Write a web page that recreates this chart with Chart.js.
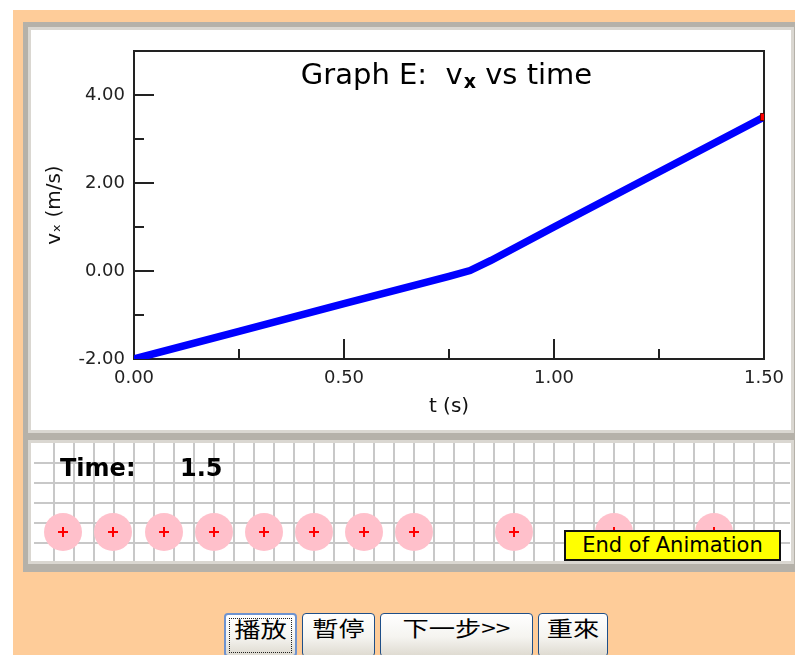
<!DOCTYPE html>
<html>
<head>
<meta charset="utf-8">
<script src="https://cdn.jsdelivr.net/npm/chart.js@4.4.1/dist/chart.umd.min.js"></script>
<style>
  html, body { margin: 0; padding: 0; }
  body { width: 795px; height: 655px; background: #fff; position: relative; overflow: hidden; font-family: "DejaVu Sans", sans-serif; }
  #bg { position: absolute; left: 13px; top: 10px; right: 0; bottom: 0; background: #fecc99; }
  #frame { position: absolute; left: 23px; top: 22px; width: 774px; height: 550px; background: #b5b1a9; }
  .inner { position: absolute; background: #fff; border: 3px solid #dad7d1; box-sizing: border-box; }
  #topBox { left: 28px; top: 27px; width: 766px; height: 406px; }
  #botBox { left: 28px; top: 440px; width: 766px; height: 124px; }
  #mainChart { position: absolute; left: 33px; top: 30px; }
  #motionChart { position: absolute; left: 34px; top: 443px; }
  .timeText { position: absolute; top: 455px; font: bold 24px "DejaVu Sans"; line-height: 26px; color: #000; }
  #endBox { position: absolute; left: 564px; top: 530px; width: 217px; height: 31px; box-sizing: border-box;
    background: #ffff00; border: 2px solid #111; font: 21px "DejaVu Sans"; line-height: 27px; text-align: center; color: #000; }
  .btn { position: absolute; top: 613px; height: 44px; box-sizing: border-box; border: 1px solid #1f4f88; border-radius: 4px;
    background: linear-gradient(#ffffff 0%, #f5f4f0 55%, #dedad0 100%); color: #000; }
  .btn span { position: absolute; left: 0; right: 0; top: 1px; text-align: center; font: 21px "Noto Sans CJK TC"; line-height: 24px; transform: scaleX(1.25); }
  #btnPlay { border: 2px solid #6f93cf; }
  #btnPlay i { position: absolute; left: 3px; top: 3px; right: 3px; bottom: 2px; border: 1px dotted #222; }
</style>
</head>
<body>
<div id="bg"></div>
<div id="frame"></div>
<div class="inner" id="topBox"></div>
<div class="inner" id="botBox"></div>
<canvas id="mainChart" width="752" height="400"></canvas>
<canvas id="motionChart" width="756" height="118"></canvas>
<div class="timeText" style="left:60px">Time:</div>
<div class="timeText" style="left:180px">1.5</div>
<div id="endBox">End of Animation</div>
<div class="btn" id="btnPlay" style="left:224px;width:73px"><i></i><span>播放</span></div>
<div class="btn" style="left:302px;width:73px"><span>暫停</span></div>
<div class="btn" style="left:380px;width:153px"><span>下一步&gt;&gt;</span></div>
<div class="btn" style="left:538px;width:70px"><span>重來</span></div>
<script>
// velocity graph data
const tValues = [0, 0.25, 0.5, 0.75, 0.8, 0.85, 1.0, 1.25, 1.5];
const vxValues = [-2.0, -1.37, -0.74, -0.12, 0.01, 0.24, 1.0, 2.25, 3.5];
const endPoint = [1.5, 3.5];

const xMinorTicks = [0.25, 0.75, 1.25];
const yMinorTicks = [-1, 1, 3];

// motion diagram: ball positions in grid squares
const ballX = [1.45, 3.95, 6.5, 9.0, 11.5, 14.0, 16.5, 19.0, 24.0, 29.0, 34.0];
const ballY = [4.45, 4.45, 4.45, 4.45, 4.45, 4.45, 4.45, 4.45, 4.45, 4.45, 4.45];

const tickFont = { family: 'DejaVu Sans', size: 18 };

// frame and inward tick marks
const axisTicks = {
  id: 'axisTicks',
  beforeDatasetsDraw(chart) {
    const ctx = chart.ctx, a = chart.chartArea;
    const xs = chart.scales.x, ys = chart.scales.y;
    ctx.save();
    ctx.strokeStyle = '#222';
    ctx.lineWidth = 2;
    ctx.strokeRect(a.left, a.top, a.right - a.left, a.bottom - a.top);
    ctx.beginPath();
    xs.ticks.forEach(t => {
      const px = Math.round(xs.getPixelForValue(t.value));
      ctx.moveTo(px, a.bottom); ctx.lineTo(px, a.bottom - 20);
    });
    xMinorTicks.forEach(v => {
      const px = Math.round(xs.getPixelForValue(v));
      ctx.moveTo(px, a.bottom); ctx.lineTo(px, a.bottom - 10);
    });
    ys.ticks.forEach(t => {
      const py = Math.round(ys.getPixelForValue(t.value));
      ctx.moveTo(a.left, py); ctx.lineTo(a.left + 20, py);
    });
    yMinorTicks.forEach(v => {
      const py = Math.round(ys.getPixelForValue(v));
      ctx.moveTo(a.left, py); ctx.lineTo(a.left + 10, py);
    });
    ctx.stroke();
    ctx.restore();
  }
};

// title with bold subscript x, inside the plot
const graphTitle = {
  id: 'graphTitle',
  afterDraw(chart) {
    const ctx = chart.ctx, a = chart.chartArea;
    const p1 = 'Graph E:  v', p2 = 'x', p3 = ' vs time';
    const big = '29px "DejaVu Sans"', small = 'bold 19px "DejaVu Sans"';
    ctx.save();
    ctx.fillStyle = '#000';
    ctx.textBaseline = 'alphabetic';
    ctx.font = big;
    const w1 = ctx.measureText(p1).width, w3 = ctx.measureText(p3).width;
    ctx.font = small;
    const w2 = ctx.measureText(p2).width;
    let x = (a.left + a.right) / 2 - 3 - (w1 + w2 + w3) / 2;
    const y = a.top + 33;
    ctx.font = big;
    ctx.fillText(p1, x, y);
    x += w1 + 1;
    ctx.font = small;
    ctx.fillText(p2, x, y + 4);
    x += w2;
    ctx.font = big;
    ctx.fillText(p3, x, y);
    ctx.restore();
  }
};

function noPad(s) {
  s.paddingLeft = 0; s.paddingRight = 0; s.paddingTop = 0; s.paddingBottom = 0;
}

new Chart(document.getElementById('mainChart'), {
  type: 'line',
  data: {
    datasets: [{
      data: [{ x: endPoint[0], y: endPoint[1] }],
      showLine: false,
      pointStyle: 'rect',
      pointRadius: 5,
      backgroundColor: '#ff0000',
      borderColor: '#600',
      borderWidth: 1,
      clip: 0
    }, {
      data: tValues.map((t, i) => ({ x: t, y: vxValues[i] })),
      borderColor: '#0000ff',
      borderWidth: 7.5,
      pointRadius: 0,
      tension: 0,
      clip: 0
    }]
  },
  options: {
    responsive: false,
    animation: false,
    devicePixelRatio: 1,
    layout: { autoPadding: false, padding: { top: 21, right: 21, left: 0, bottom: 0 } },
    plugins: { legend: { display: false }, tooltip: { enabled: false } },
    scales: {
      x: {
        type: 'linear', min: 0, max: 1.5,
        grid: { display: false, drawTicks: false },
        border: { display: false },
        ticks: { stepSize: 0.5, includeBounds: false, padding: 9, color: '#222', font: tickFont,
                 maxRotation: 0, autoSkip: false, callback: v => v.toFixed(2) },
        title: { display: true, text: 't (s)', color: '#111', font: { family: 'DejaVu Sans', size: 20 },
                 padding: { top: 0, bottom: 11 } },
        afterFit(s) { s.height = 71; noPad(s); }
      },
      y: {
        min: -2, max: 5,
        grid: { display: false, drawTicks: false },
        border: { display: false },
        ticks: { stepSize: 2, includeBounds: false, padding: 9, color: '#222', font: tickFont,
                 callback: v => v.toFixed(2) },
        title: { display: true, text: 'vₓ (m/s)', color: '#111', font: { family: 'DejaVu Sans', size: 20 },
                 padding: { top: 10, bottom: 0 } },
        afterFit(s) { s.width = 101; noPad(s); }
      }
    }
  },
  plugins: [axisTicks, graphTitle]
});

new Chart(document.getElementById('motionChart'), {
  type: 'scatter',
  data: {
    datasets: [{
      data: ballX.map((x, i) => ({ x: x, y: ballY[i] })),
      pointStyle: 'cross',
      pointRadius: 5,
      borderColor: '#ff0000',
      borderWidth: 2,
      clip: false
    }, {
      data: ballX.map((x, i) => ({ x: x, y: ballY[i] })),
      pointRadius: 19,
      backgroundColor: '#ffc0cb',
      borderWidth: 0,
      clip: false
    }]
  },
  options: {
    responsive: false,
    animation: false,
    devicePixelRatio: 1,
    layout: { autoPadding: false, padding: 0 },
    plugins: { legend: { display: false }, tooltip: { enabled: false } },
    scales: {
      x: { min: 0, max: 37.8, ticks: { display: false, stepSize: 1, includeBounds: false },
           grid: { color: c => (c.tick && c.tick.value === 0 ? 'rgba(0,0,0,0)' : '#c8c8c8'), lineWidth: 2, drawTicks: false },
           border: { display: false }, afterFit: noPad },
      y: { min: 0, max: 5.9, reverse: true, ticks: { display: false, stepSize: 1, includeBounds: false },
           grid: { color: c => (c.tick && c.tick.value === 0 ? 'rgba(0,0,0,0)' : '#c8c8c8'), lineWidth: 2, drawTicks: false },
           border: { display: false }, afterFit: noPad }
    }
  }
});
</script>
</body>
</html>
